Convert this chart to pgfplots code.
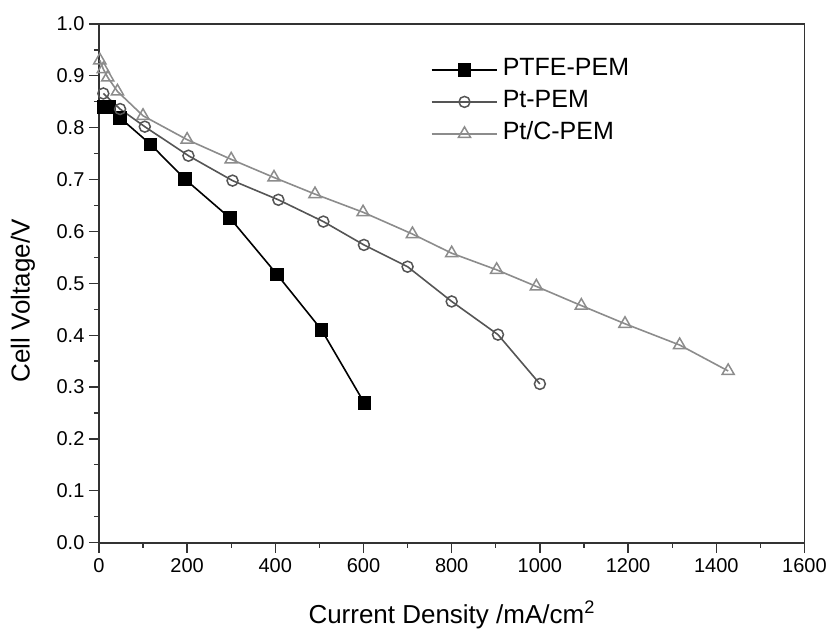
\documentclass[border=0pt]{standalone}
\usepackage{pgfplots}
\pgfplotsset{compat=1.18}
\usepackage{fontspec}
\setmainfont{Liberation Sans}
\definecolor{ptgray}{HTML}{555555}
\definecolor{ptcgray}{HTML}{8C8C8C}
\definecolor{axgray}{HTML}{333333}
\begin{document}
\begin{tikzpicture}
\begin{axis}[
  scale only axis,
  width=706pt, height=519pt,
  xmin=0, xmax=1600, ymin=0, ymax=1.0,
  xtick={0,200,...,1600},
  ytick={0,0.1,0.2,0.3,0.4,0.5,0.6,0.7,0.8,0.9,1.0},
  minor x tick num=1, minor y tick num=1,
  xtick pos=bottom, ytick pos=left,
  tick align=outside,
  major tick length=10pt, minor tick length=5pt,
  every tick/.style={axgray, line width=1.3pt},
  axis line style={axgray, line width=1.8pt},
  /pgf/number format/assume math mode=true,
  xticklabel style={font=\fontsize{20}{22}\selectfont, yshift=-2pt, /pgf/number format/.cd, fixed, 1000 sep={}},
  yticklabel style={font=\fontsize{20}{22}\selectfont, xshift=-1pt, /pgf/number format/.cd, fixed, fixed zerofill, precision=1},
  xlabel={Current Density /mA/cm\textsuperscript{2}},
  ylabel={Cell Voltage/V},
  label style={font=\fontsize{26}{29}\selectfont},
  xlabel style={at={(axis description cs:0.5,-0.155)}, anchor=base},
  ylabel style={at={(axis description cs:-0.1076,0.466)}, anchor=center},
  legend style={at={(axis cs:752,0.933)}, anchor=north west, draw=none, fill=none,
    font=\fontsize{25}{28}\selectfont, row sep=10pt, inner sep=0pt,
    nodes={text height=17pt, text depth=5pt, inner ysep=0pt, inner xsep=4.5pt},
    legend cell align=left},
  legend image code/.code={\draw[mark repeat=2,mark phase=2] plot coordinates {(0pt,0pt) (33pt,0pt) (66pt,0pt)};},
]
\addplot[black, line width=1.6pt, mark=square*, mark size=6pt, mark options={fill=black, solid}]
coordinates {(10,0.840) (23,0.840) (48,0.819) (117,0.768) (195,0.701) (297,0.626) (404,0.517) (505,0.410) (602,0.269)};
\addlegendentry{PTFE-PEM}
\addplot[ptgray, line width=1.6pt, mark=o, mark size=5.5pt, mark options={fill=white, solid, line width=1.5pt}]
coordinates {(10,0.866) (48,0.836) (104,0.802) (203,0.746) (303,0.698) (407,0.661) (509,0.619) (601,0.574) (700,0.532) (800,0.465) (905,0.401) (1000,0.306)};
\addlegendentry{Pt-PEM}
\addplot[ptcgray, line width=1.6pt, mark=triangle, mark size=7pt, mark options={fill=white, solid, line width=1.5pt}]
coordinates {(2,0.930) (10,0.913) (20,0.897) (42,0.870) (100,0.823) (200,0.777) (300,0.739) (397,0.704) (490,0.672) (599,0.637) (711,0.595) (800,0.558) (902,0.526) (992,0.494) (1094,0.457) (1193,0.422) (1317,0.381) (1427,0.331)};
\addlegendentry{Pt/C-PEM}
\end{axis}
\path (current axis.south west) ++(-99pt,-84pt);
\path (current axis.north east) ++(25pt,24pt);
\end{tikzpicture}
\end{document}
